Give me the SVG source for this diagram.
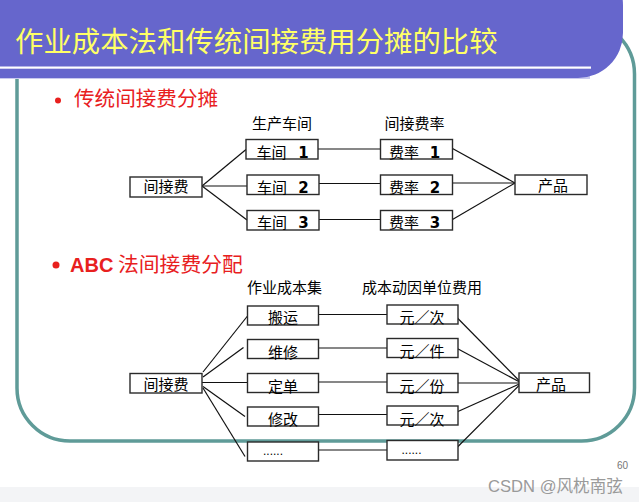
<svg xmlns="http://www.w3.org/2000/svg" width="639" height="502" viewBox="0 0 639 502">
<style>
.box{fill:#fff;stroke:#2a2a2a;stroke-width:1.4}
.t{font-family:"Liberation Sans","Noto Sans CJK SC",sans-serif;font-size:15px;fill:#000}
.m{text-anchor:middle}
.num{font-family:"DejaVu Sans",sans-serif;font-weight:bold;font-size:15px;fill:#000;text-anchor:middle}
.dots{font-family:"Liberation Sans",sans-serif;font-size:12px;fill:#000}
.edge line{stroke:#111;stroke-width:1.2}
.red{font-family:"Liberation Sans","Noto Sans CJK SC",sans-serif;fill:#E8201E}
</style>
<rect x="0" y="0" width="639" height="502" fill="#fff"/>
<rect x="0" y="487" width="639" height="15" fill="#F3F4F6"/>
<g id="frame">
<rect x="17" y="21" width="617.5" height="420" rx="53" ry="53" fill="none" stroke="#5F9B98" stroke-width="3.5"/>
</g>
<g id="banner">
<rect x="0" y="76" width="590" height="3" fill="#C9C9EE"/>
<path d="M-10 -40 H578 A45 45 0 0 1 623 5 V33 A45 45 0 0 1 578 78 H-10 Z" fill="#6666CC"/>
<rect x="0" y="66.5" width="591" height="2.2" fill="#fff"/>
<text x="15" y="51.5" font-family="Noto Sans CJK SC, sans-serif" font-size="28.4" fill="#FFFF66">作业成本法和传统间接费用分摊的比较</text>
</g>

<g id="sec1-title">
<circle cx="58" cy="100.5" r="3" fill="#E8201E"/>
<text class="red" x="74" y="105.5" font-size="20.6">传统间接费分摊</text>
</g>
<g id="sec1-headers">
<text class="t m" x="282" y="128.5">生产车间</text>
<text class="t m" x="414.5" y="128.5">间接费率</text>
</g>

<g id="connectors">
<g class="edge">
<line x1="202" y1="186" x2="246" y2="149.5"/>
<line x1="202" y1="186" x2="247" y2="186"/>
<line x1="202" y1="186" x2="247" y2="220"/>
<line x1="318" y1="149" x2="380.5" y2="149"/>
<line x1="319" y1="183.5" x2="380.5" y2="183.5"/>
<line x1="319" y1="219.5" x2="380.5" y2="219.5"/>
<line x1="452.5" y1="148.5" x2="515" y2="183"/>
<line x1="452.5" y1="183" x2="515" y2="183"/>
<line x1="452.5" y1="219.5" x2="515" y2="183"/>

<line x1="203" y1="372" x2="247.5" y2="316"/>
<line x1="203" y1="377" x2="243.5" y2="347.5"/>
<line x1="202" y1="382.5" x2="247.5" y2="382.5"/>
<line x1="203" y1="386.5" x2="245" y2="416.5"/>
<line x1="203" y1="388" x2="245" y2="456.5"/>
<line x1="318.5" y1="314.5" x2="387" y2="314.5"/>
<line x1="318.5" y1="348" x2="387" y2="348"/>
<line x1="318.5" y1="382" x2="387" y2="382"/>
<line x1="318.5" y1="414.5" x2="387" y2="414.5"/>
<line x1="318.5" y1="450" x2="387" y2="450"/>
<line x1="453.5" y1="314" x2="521.5" y2="383"/>
<line x1="453.5" y1="346.5" x2="521.5" y2="383"/>
<line x1="455" y1="383" x2="521.5" y2="383"/>
<line x1="453.5" y1="413.5" x2="521.5" y2="383"/>
<line x1="455" y1="449.5" x2="521.5" y2="383"/>
</g>
</g>

<g id="s1-src"><rect class="box" x="130" y="177" width="72" height="20"/><text class="t m" x="166" y="191.5">间接费</text></g>
<g id="s1-ws1"><rect class="box" x="246" y="139.5" width="72" height="19.5"/><text class="t" x="256.5" y="157.5" font-size="14.5">车间</text><text class="num" x="303.5" y="157.5">1</text></g>
<g id="s1-ws2"><rect class="box" x="247" y="175" width="72" height="19.5"/><text class="t" x="257" y="192.5" font-size="14.5">车间</text><text class="num" x="303.5" y="192.5">2</text></g>
<g id="s1-ws3"><rect class="box" x="247" y="210.5" width="72" height="19.5"/><text class="t" x="257" y="228" font-size="14.5">车间</text><text class="num" x="303.5" y="228">3</text></g>
<g id="s1-r1"><rect class="box" x="380.5" y="139.5" width="72" height="19.5"/><text class="t" x="389" y="157.5" font-size="14.5">费率</text><text class="num" x="435" y="157.5">1</text></g>
<g id="s1-r2"><rect class="box" x="380.5" y="175" width="72" height="19.5"/><text class="t" x="389" y="192.5" font-size="14.5">费率</text><text class="num" x="435" y="192.5">2</text></g>
<g id="s1-r3"><rect class="box" x="380.5" y="210.5" width="72" height="19.5"/><text class="t" x="389" y="228" font-size="14.5">费率</text><text class="num" x="435" y="228">3</text></g>
<g id="s1-prod"><rect class="box" x="515" y="175" width="72" height="19.5"/><text class="t m" x="553" y="191">产品</text></g>

<g id="sec2-title">
<circle cx="56" cy="265" r="3.5" fill="#E8201E"/>
<text class="red" y="272"><tspan x="70" font-size="20" font-weight="bold">ABC</tspan><tspan x="118" font-size="20.8">法间接费分配</tspan></text>
</g>
<g id="sec2-headers">
<text class="t m" x="284.5" y="293">作业成本集</text>
<text class="t m" x="422" y="293">成本动因单位费用</text>
</g>

<g id="s2-src"><rect class="box" x="130" y="373.5" width="72" height="19.5"/><text class="t m" x="166" y="389.5">间接费</text></g>
<g id="s2-a1"><rect class="box" x="247.5" y="306" width="71" height="19"/><text class="t m" x="283" y="322.5">搬运</text></g>
<g id="s2-a2"><rect class="box" x="247.5" y="339.5" width="71" height="19"/><text class="t m" x="283" y="357.5">维修</text></g>
<g id="s2-a3"><rect class="box" x="247.5" y="373.5" width="71" height="19"/><text class="t m" x="283" y="392">定单</text></g>
<g id="s2-a4"><rect class="box" x="247.5" y="407" width="71" height="19"/><text class="t m" x="283" y="425">修改</text></g>
<g id="s2-a5"><rect class="box" x="247.5" y="442" width="71" height="19"/><text class="dots" x="263" y="454.5">......</text></g>
<g id="s2-u1"><rect class="box" x="387" y="305" width="71" height="19"/><text class="t m" x="422" y="322.5">元／次</text></g>
<g id="s2-u2"><rect class="box" x="387" y="338.5" width="71" height="19"/><text class="t m" x="422" y="357">元／件</text></g>
<g id="s2-u3"><rect class="box" x="387" y="373.5" width="71" height="19"/><text class="t m" x="422" y="391.5">元／份</text></g>
<g id="s2-u4"><rect class="box" x="387" y="406" width="71" height="19"/><text class="t m" x="422" y="424.5">元／次</text></g>
<g id="s2-u5"><rect class="box" x="387" y="440.5" width="71" height="19.5"/><text class="dots" x="401.5" y="453.5">......</text></g>
<g id="s2-prod"><rect class="box" x="519" y="373" width="70.5" height="19.5"/><text class="t m" x="551" y="390">产品</text></g>

<g id="footer">
<text x="628" y="469" font-family="Liberation Sans, sans-serif" font-size="10" fill="#777" text-anchor="end">60</text>
<text x="488" y="491.5" font-family="Liberation Sans, Noto Sans CJK SC, sans-serif" font-size="16.6" fill="#9a9a9a">CSDN @风枕南弦</text>
</g>
</svg>
